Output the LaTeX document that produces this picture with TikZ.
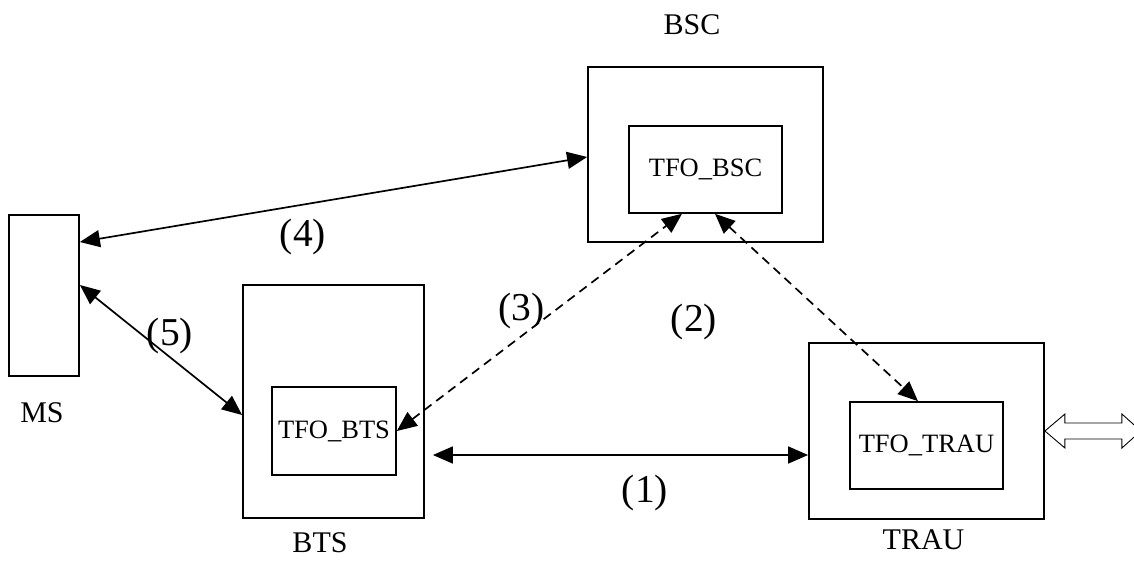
\documentclass[tikz,border=0pt]{standalone}
\usepackage{fontspec}
\setmainfont{Liberation Serif}
\usetikzlibrary{arrows.meta}
\begin{document}
\begin{tikzpicture}[x=1pt,y=-1pt,
  box/.style={draw,line width=1.8pt,rectangle,inner sep=0pt},
  inbox/.style={draw,line width=1.6pt,rectangle,inner sep=0pt,font=\fontsize{26.5}{28}\selectfont},
  namelbl/.style={inner sep=0pt,font=\fontsize{30}{32}\selectfont},
  numlbl/.style={inner sep=0pt,font=\fontsize{39.5}{42}\selectfont},
  link/.style={line width=1.7pt,{Triangle[length=20pt,width=17pt]}-{Triangle[length=20pt,width=17pt]}},
  dlink/.style={link,dash pattern=on 9pt off 6pt}
]
\useasboundingbox (0,0) rectangle (1134,560);
% boxes
\node[box,minimum width=70pt,minimum height=161pt] (ms) at (44,295.5) {};
\node[box,minimum width=181pt,minimum height=233pt] (bts) at (333.5,401.5) {};
\node[inbox,minimum width=124pt,minimum height=88pt] (tfobts) at (334,431) {TFO\_BTS};
\node[box,minimum width=235pt,minimum height=175pt] (bsc) at (705.5,154.5) {};
\node[inbox,minimum width=153pt,minimum height=87pt] (tfobsc) at (705.5,169.5) {TFO\_BSC};
\node[box,minimum width=235pt,minimum height=176pt] (trau) at (926.5,431) {};
\node[inbox,minimum width=153pt,minimum height=87pt] (tfotrau) at (926.5,445.5) {TFO\_TRAU};
% names
\node[namelbl] (msl) at (42,413) {MS};
\node[namelbl] (btsl) at (320,543) {BTS};
\node[namelbl] (bscl) at (692,25) {BSC};
\node[namelbl] (traul) at (923.5,540) {TRAU};
% connectors
\draw[link] ([yshift=53.5pt]ms.east) -- ([yshift=-2.5pt]bsc.west);
\draw[link] ([yshift=10.5pt]ms.east) -- ([yshift=-13.5pt]bts.west);
\draw[dlink] (tfobts.east) -- ([xshift=-23.5pt]tfobsc.south);
\draw[dlink] ([xshift=9.5pt]tfobsc.south) -- ([xshift=-8.5pt]tfotrau.north);
\draw[link] ([xshift=8pt,yshift=-53.5pt]bts.east) -- ([yshift=-24pt]trau.west);
% hollow double arrow
\draw[line width=0.9pt,line join=miter] (trau.east) -- ++(20,-17) -- ++(0,9) -- ++(57,0) -- ++(0,-9)
  -- ++(19,17) -- ++(-19,17) -- ++(0,-9) -- ++(-57,0) -- ++(0,9) -- cycle;
% numbers
\node[numlbl] (n1) at (645,493) {(1)};
\node[numlbl] (n2) at (694,322) {(2)};
\node[numlbl] (n3) at (521.5,311) {(3)};
\node[numlbl] (n4) at (303,237) {(4)};
\node[numlbl] (n5) at (170,336) {(5)};
\end{tikzpicture}
\end{document}
